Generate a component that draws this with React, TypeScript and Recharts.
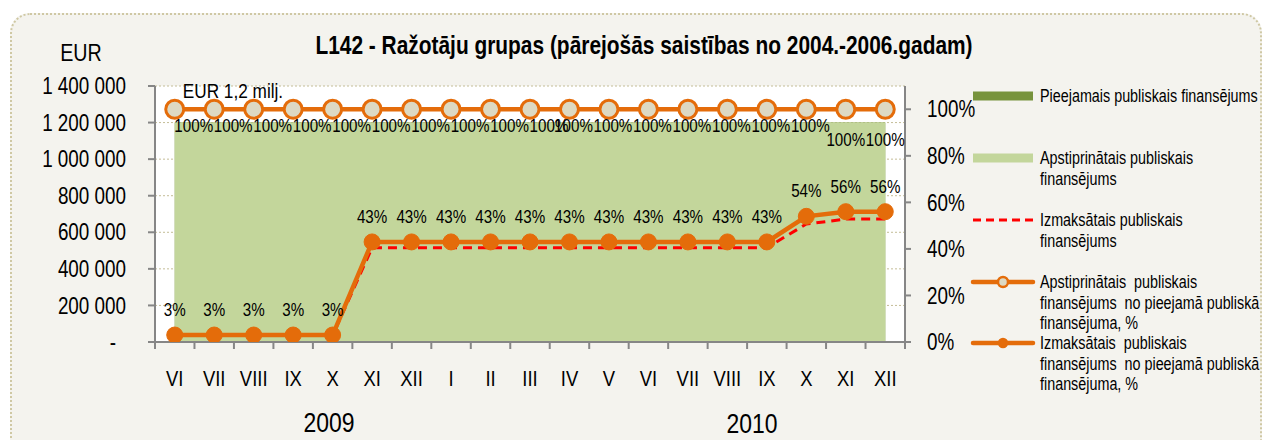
import React from 'react';
import {
  ComposedChart, Area, Line, XAxis, YAxis, CartesianGrid, Legend, LabelList,
} from 'recharts';

// Mēneši: VI 2009 – XII 2010
const months = ['VI', 'VII', 'VIII', 'IX', 'X', 'XI', 'XII', 'I', 'II', 'III', 'IV', 'V', 'VI', 'VII', 'VIII', 'IX', 'X', 'XI', 'XII'];

// EUR
const available = [1200000, 1200000, 1200000, 1200000, 1200000, 1200000, 1200000, 1200000, 1200000, 1200000, 1200000, 1200000, 1200000, 1200000, 1200000, 1200000, 1200000, 1200000, 1200000];
const approved = [1200000, 1200000, 1200000, 1200000, 1200000, 1200000, 1200000, 1200000, 1200000, 1200000, 1200000, 1200000, 1200000, 1200000, 1200000, 1200000, 1200000, 1200000, 1200000];
const paid = [36000, 36000, 36000, 36000, 36000, 516000, 516000, 516000, 516000, 516000, 516000, 516000, 516000, 516000, 516000, 516000, 645000, 672000, 672000];

// % no pieejamā
const approvedPct = [1, 1, 1, 1, 1, 1, 1, 1, 1, 1, 1, 1, 1, 1, 1, 1, 1, 1, 1];
const paidPct = [0.03, 0.03, 0.03, 0.03, 0.03, 0.43, 0.43, 0.43, 0.43, 0.43, 0.43, 0.43, 0.43, 0.43, 0.43, 0.43, 0.54, 0.56, 0.56];

const leftTicks = [0, 200000, 400000, 600000, 800000, 1000000, 1200000, 1400000];
const rightTicks = [0, 0.2, 0.4, 0.6, 0.8, 1];

const years = [
  { label: '2009', x: 329, y: 432 },
  { label: '2010', x: 752, y: 433 },
];

const legendRows = [
  { kind: 'dark', y: 96, lines: ['Pieejamais publiskais finansējums'] },
  { kind: 'light', y: 158, lines: ['Apstiprinātais publiskais', 'finansējums'] },
  { kind: 'dash', y: 220, lines: ['Izmaksātais publiskais', 'finansējums'] },
  { kind: 'hollow', y: 282, lines: ['Apstiprinātais  publiskais', 'finansējums  no pieejamā publiskā', 'finansējuma, %'] },
  { kind: 'filled', y: 343, lines: ['Izmaksātais  publiskais', 'finansējums  no pieejamā publiskā', 'finansējuma, %'] },
];

const data = months.map((m, i) => ({
  month: m,
  available: available[i],
  approved: approved[i],
  paid: paid[i],
  approvedPct: approvedPct[i],
  paidPct: paidPct[i],
}));

const FONT = "'Liberation Sans', Arial, sans-serif";
const NARROW = 0.82; // Arial Narrow look
const ORANGE = '#E46C0A';
const AXIS = '#868686';
const W = 1266;
const H = 440;
const PLOT_W = 750;
const HALF_BAND = PLOT_W / months.length / 2;

const fmtEur = (v: number) => String(v).replace(/\B(?=(\d{3})+(?!\d))/g, ' ');
const fmtPct = (v: number) => `${Math.round(v * 100)}%`;

// condensed text: regular font squeezed horizontally
const NText = ({ x, y, size, anchor = 'start', bold = false, baseline, children }: any) => (
  <g transform={`translate(${x},${y}) scale(${NARROW},1)`}>
    <text x={0} y={0} textAnchor={anchor} dominantBaseline={baseline} fontSize={size}
      fontWeight={bold ? 'bold' : 'normal'} fontFamily={FONT} fill="#000" style={{ whiteSpace: 'pre' }}>
      {children}
    </text>
  </g>
);

const LeftTick = (props: any) => {
  const { x, y, payload } = props;
  const zero = payload.value === 0;
  return (
    <NText x={zero ? x - 10 : x} y={y} anchor="end" baseline="central" size={23}>
      {zero ? '-' : fmtEur(payload.value)}
    </NText>
  );
};

const RightTick = (props: any) => {
  const { x, y, payload } = props;
  return (
    <NText x={x} y={y} anchor="start" baseline="central" size={23}>
      {fmtPct(payload.value)}
    </NText>
  );
};

const MonthTick = (props: any) => {
  const { x, y, payload, index } = props;
  return (
    <g>
      <line x1={x - HALF_BAND} x2={x - HALF_BAND} y1={y} y2={y + 7} stroke={AXIS} strokeWidth={2} />
      {index === months.length - 1 && (
        <line x1={x + HALF_BAND} x2={x + HALF_BAND} y1={y} y2={y + 7} stroke={AXIS} strokeWidth={2} />
      )}
      <NText x={x} y={y + 36} anchor="middle" baseline="central" size={22.5}>
        {payload.value}
      </NText>
    </g>
  );
};

// 100% labels sit below-right of the point, the last two drop lower
const approvedLabel = (p: any) => {
  const i = p.index;
  const dx = i < 10 ? 19 : i < 17 ? 4 : 0;
  const dy = i < 17 ? 23 : 37;
  return (
    <NText x={p.x + dx} y={p.y + dy} anchor="middle" size={18.5}>{fmtPct(p.value)}</NText>
  );
};

const renderLegend = () => {
  const ox = 960;
  const oy = 70;
  return (
    <svg width={306} height={340} style={{ display: 'block' }}>
      <g transform={`translate(${-ox},${-oy})`}>
        {legendRows.map((r) => (
          <g key={r.kind}>
            {r.kind === 'dark' && <rect x={973} y={r.y - 4.5} width={60} height={9} fill="#77933C" />}
            {r.kind === 'light' && <rect x={973} y={r.y - 4.5} width={60} height={9} fill="#C3D69B" />}
            {r.kind === 'dash' && (
              <line x1={973} x2={1033} y1={r.y} y2={r.y} stroke="#FF0000" strokeWidth={3} strokeDasharray="8 5" />
            )}
            {(r.kind === 'hollow' || r.kind === 'filled') && (
              <>
                <line x1={973} x2={1033} y1={r.y} y2={r.y} stroke={ORANGE} strokeWidth={4.5} strokeLinecap="round" />
                <circle cx={1003} cy={r.y} r={r.kind === 'hollow' ? 5 : 4}
                  fill={r.kind === 'hollow' ? '#DDD9C3' : ORANGE} stroke={ORANGE} strokeWidth={2.5} />
              </>
            )}
            {r.lines.map((t, i) => (
              <NText key={i} x={1040} y={r.y + i * 20.5} baseline="central" size={17.5}>{t}</NText>
            ))}
          </g>
        ))}
      </g>
    </svg>
  );
};

const App: React.FC = () => {
  return (
    <div style={{ position: 'absolute', left: 0, top: 0, width: W, height: H, overflow: 'hidden', background: '#fff', fontFamily: FONT }}>
      <div style={{
        position: 'absolute', left: 10, top: 13, width: 1252, height: 460,
        borderRadius: 20, border: '2px dotted #CFC8A4', background: '#F4F3EE', boxSizing: 'border-box',
      }} />

      <div style={{ position: 'absolute', left: 0, top: 0 }}>
        <ComposedChart
          width={W}
          height={H}
          data={data}
          margin={{ top: 86, right: 20, bottom: 0, left: 10 }}
        >
          <CartesianGrid vertical={false} fill="#FFFFFF" stroke="#C4BD97" strokeDasharray="2 2"
            yAxisId="eur" />
          <XAxis dataKey="month" height={98} interval={0}
            padding={{ left: HALF_BAND, right: HALF_BAND }}
            axisLine={{ stroke: AXIS, strokeWidth: 2 }} tickLine={false} tickSize={0} tickMargin={0}
            tick={<MonthTick />} />
          <YAxis yAxisId="eur" orientation="left" width={145} domain={[0, 1400000]} ticks={leftTicks}
            allowDataOverflow axisLine={{ stroke: AXIS, strokeWidth: 2 }}
            tickLine={{ stroke: AXIS, strokeWidth: 2 }} tickSize={7} tickMargin={22} tick={<LeftTick />} />
          <YAxis yAxisId="pct" orientation="right" width={341} domain={[0, 1.1]} ticks={rightTicks}
            allowDataOverflow axisLine={{ stroke: AXIS, strokeWidth: 2 }}
            tickLine={{ stroke: AXIS, strokeWidth: 2 }} tickSize={6} tickMargin={16} tick={<RightTick />} />

          <Legend layout="vertical" align="center" verticalAlign="middle" content={renderLegend}
            wrapperStyle={{ position: 'absolute', left: 960, top: 70, width: 306, height: 340 }} />

          <Area yAxisId="eur" type="linear" dataKey="available" name="Pieejamais publiskais finansējums"
            fill="#77933C" fillOpacity={1} stroke="none" isAnimationActive={false} />
          <Area yAxisId="eur" type="linear" dataKey="approved" name="Apstiprinātais publiskais finansējums"
            fill="#C3D69B" fillOpacity={1} stroke="none" isAnimationActive={false}>
            <LabelList dataKey="approved" content={(p: any) => (p.index === 0 ? (
              <NText x={p.x + 8} y={p.y - 25} size={21}>EUR 1,2 milj.</NText>
            ) : null)} />
          </Area>
          <Line yAxisId="eur" type="linear" dataKey="paid" name="Izmaksātais publiskais finansējums"
            stroke="#FF0000" strokeWidth={3} strokeDasharray="9 6" dot={false} isAnimationActive={false} />
          <Line yAxisId="pct" type="linear" dataKey="approvedPct"
            name="Apstiprinātais publiskais finansējums no pieejamā publiskā finansējuma, %"
            stroke={ORANGE} strokeWidth={4.5}
            dot={{ r: 9, fill: '#DDD9C3', stroke: ORANGE, strokeWidth: 3 }} isAnimationActive={false}>
            <LabelList dataKey="approvedPct" content={approvedLabel} />
          </Line>
          <Line yAxisId="pct" type="linear" dataKey="paidPct"
            name="Izmaksātais publiskais finansējums no pieejamā publiskā finansējuma, %"
            stroke={ORANGE} strokeWidth={4.5}
            dot={{ r: 8, fill: ORANGE, stroke: ORANGE, strokeWidth: 1 }} isAnimationActive={false}>
            <LabelList dataKey="paidPct" content={(p: any) => (
              <NText x={p.x} y={p.y - 19} anchor="middle" size={18.5}>{fmtPct(p.value)}</NText>
            )} />
          </Line>
        </ComposedChart>
      </div>

      <svg width={W} height={H} style={{ position: 'absolute', left: 0, top: 0, pointerEvents: 'none' }}>
        <NText x={644} y={54} anchor="middle" size={25.5} bold>
          L142 - Ražotāju grupas (pārejošās saistības no 2004.-2006.gadam)
        </NText>
        <NText x={81} y={61} anchor="middle" size={24}>EUR</NText>
        {years.map((yr) => (
          <NText key={yr.label} x={yr.x} y={yr.y} anchor="middle" size={28}>{yr.label}</NText>
        ))}
      </svg>
    </div>
  );
};

export default App;
